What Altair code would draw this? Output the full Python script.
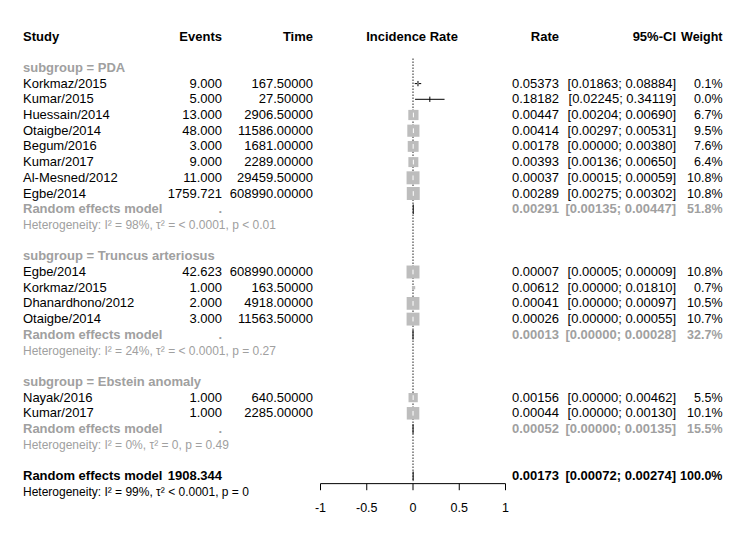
import altair as alt
import pandas as pd

# ---------------- data ----------------
group_names = ["PDA", "Truncus arteriosus", "Ebstein anomaly"]

pda_study = ["Korkmaz/2015", "Kumar/2015", "Huessain/2014", "Otaigbe/2014",
             "Begum/2016", "Kumar/2017", "Al-Mesned/2012", "Egbe/2014"]
pda_events = [9.000, 5.000, 13.000, 48.000, 3.000, 9.000, 11.000, 1759.721]
pda_time = [167.5, 27.5, 2906.5, 11586.0, 1681.0, 2289.0, 29459.5, 608990.0]
pda_rate = [0.05373, 0.18182, 0.00447, 0.00414, 0.00178, 0.00393, 0.00037, 0.00289]
pda_lo = [0.01863, 0.02245, 0.00204, 0.00297, 0.00000, 0.00136, 0.00015, 0.00275]
pda_hi = [0.08884, 0.34119, 0.00690, 0.00531, 0.00380, 0.00650, 0.00059, 0.00302]
pda_w = [0.1, 0.0, 6.7, 9.5, 7.6, 6.4, 10.8, 10.8]

tru_study = ["Egbe/2014", "Korkmaz/2015", "Dhanardhono/2012", "Otaigbe/2014"]
tru_events = [42.623, 1.000, 2.000, 3.000]
tru_time = [608990.0, 163.5, 4918.0, 11563.5]
tru_rate = [0.00007, 0.00612, 0.00041, 0.00026]
tru_lo = [0.00005, 0.00000, 0.00000, 0.00000]
tru_hi = [0.00009, 0.01810, 0.00097, 0.00055]
tru_w = [10.8, 0.7, 10.5, 10.7]

ebs_study = ["Nayak/2016", "Kumar/2017"]
ebs_events = [1.000, 1.000]
ebs_time = [640.5, 2285.0]
ebs_rate = [0.00156, 0.00044]
ebs_lo = [0.00000, 0.00000]
ebs_hi = [0.00462, 0.00130]
ebs_w = [5.5, 10.1]

re_rate = [0.00291, 0.00013, 0.00052]
re_lo = [0.00135, 0.00000, 0.00000]
re_hi = [0.00447, 0.00028, 0.00135]
re_w = [51.8, 32.7, 15.5]
het_text = ["Heterogeneity: I² = 98%, τ² = < 0.0001, p < 0.01",
            "Heterogeneity: I² = 24%, τ² = < 0.0001, p = 0.27",
            "Heterogeneity: I² = 0%, τ² = 0, p = 0.49"]

overall_events = 1908.344
overall_rate = 0.00173
overall_lo = 0.00072
overall_hi = 0.00274
overall_w = 100.0
overall_het = "Heterogeneity: I² = 99%, τ² < 0.0001, p = 0"

axis_ticks = [-1, -0.5, 0, 0.5, 1]
axis_labels = ["-1", "-0.5", "0", "0.5", "1"]

# ---------------- layout ----------------
W, H = 715, 524
X0, K = 405.0, 92.5      # pixel of rate 0 and pixels per unit
Y0, R = 28.5, 15.7       # pixel of row 0 and pixels per row
GRAY = "#a0a0a0"
FONT = "Liberation Sans"

groups = [
    (pda_study, pda_events, pda_time, pda_rate, pda_lo, pda_hi, pda_w),
    (tru_study, tru_events, tru_time, tru_rate, tru_lo, tru_hi, tru_w),
    (ebs_study, ebs_events, ebs_time, ebs_rate, ebs_lo, ebs_hi, ebs_w),
]

texts = []   # row, col, text, style
studies = []
diamonds = []

def add(row, col, text, style):
    texts.append({"row": row, "col": col, "text": text, "style": style})

for col, t in [("study", "Study"), ("events", "Events"), ("time", "Time"),
               ("mid", "Incidence Rate"), ("rate", "Rate"), ("ci", "95%-CI"),
               ("weight", "Weight")]:
    add(0, col, t, "bold")

row = 2
for gi, (st, ev, tm, rt, lo, hi, w) in enumerate(groups):
    add(row, "study", "subgroup = " + group_names[gi], "graybold")
    row += 1
    for i in range(len(st)):
        add(row, "study", st[i], "normal")
        add(row, "events", f"{ev[i]:.3f}", "normal")
        add(row, "time", f"{tm[i]:.5f}", "normal")
        add(row, "rate", f"{rt[i]:.5f}", "normal")
        add(row, "ci", f"[{lo[i]:.5f}; {hi[i]:.5f}]", "normal")
        add(row, "weight", f"{w[i]:.1f}%", "normal")
        studies.append({"row": row, "rate": rt[i], "lo": lo[i], "hi": hi[i], "w": w[i]})
        row += 1
    add(row, "study", "Random effects model", "graybold")
    add(row, "events", ".", "graybold")
    add(row, "rate", f"{re_rate[gi]:.5f}", "graybold")
    add(row, "ci", f"[{re_lo[gi]:.5f}; {re_hi[gi]:.5f}]", "graybold")
    add(row, "weight", f"{re_w[gi]:.1f}%", "graybold")
    diamonds.append({"row": row, "rate": re_rate[gi], "lo": re_lo[gi], "hi": re_hi[gi]})
    row += 1
    add(row, "study", het_text[gi], "hetgray")
    row += 2

add(row, "study", "Random effects model", "bold")
add(row, "events", f"{overall_events:.3f}", "bold")
add(row, "rate", f"{overall_rate:.5f}", "bold")
add(row, "ci", f"[{overall_lo:.5f}; {overall_hi:.5f}]", "bold")
add(row, "weight", f"{overall_w:.1f}%", "bold")
diamonds.append({"row": row, "rate": overall_rate, "lo": overall_lo, "hi": overall_hi})
overall_row = row
add(row + 1, "study", overall_het, "hetblack")

tdf = pd.DataFrame(texts)
sdf = pd.DataFrame(studies)
ddf = pd.DataFrame(diamonds)

xs = alt.Scale(domain=[(0 - X0) / K, (W - X0) / K], range=[0, W], nice=False, zero=False)
ys = alt.Scale(domain=[(0 - Y0) / R, (H - Y0) / R], range=[0, H], nice=False, zero=False)

col_x = {"study": (15, "left"), "events": (214, "right"), "time": (305, "right"),
         "mid": (404, "center"), "rate": (551, "right"), "ci": (668, "right"),
         "weight": (714.5, "right")}
styles = {"normal": ("black", "normal", 13), "bold": ("black", "bold", 13),
          "graybold": (GRAY, "bold", 13), "hetgray": (GRAY, "normal", 12),
          "hetblack": ("black", "normal", 12)}

layers = []

# reference line at 0 (dotted)
ref = pd.DataFrame({"x": [0], "y": [1.4], "y2": [overall_row + 0.35]})
layers.append(alt.Chart(ref).mark_rule(color="#222222", strokeWidth=1, strokeDash=[1.5, 1.5]).encode(
    x=alt.X("x:Q", scale=xs, axis=None), y=alt.Y("y:Q", scale=ys, axis=None), y2="y2:Q"))

base_s = alt.Chart(sdf)
# CI lines
layers.append(base_s.mark_rule(color="black", strokeWidth=1).encode(
    x=alt.X("lo:Q", scale=xs, axis=None), x2="hi:Q", y=alt.Y("row:Q", scale=ys, axis=None)))
# tiny-weight point estimates
layers.append(base_s.transform_filter("datum.w < 0.5").transform_calculate(
    ya="datum.row - 0.17", yb="datum.row + 0.17").mark_rule(color="black", strokeWidth=1).encode(
    x=alt.X("rate:Q", scale=xs, axis=None), y=alt.Y("ya:Q", scale=ys, axis=None), y2="yb:Q"))
# squares
layers.append(base_s.mark_square(filled=True, color="#bdbdbd", opacity=1).encode(
    x=alt.X("rate:Q", scale=xs, axis=None), y=alt.Y("row:Q", scale=ys, axis=None),
    size=alt.Size("w:Q", scale=alt.Scale(domain=[0, 10.8], range=[0, 168]), legend=None)))
# white inner marks
layers.append(base_s.transform_filter("datum.w >= 2").transform_calculate(
    ya="datum.row - 0.15", yb="datum.row + 0.15").mark_rule(color="white", strokeWidth=1).encode(
    x=alt.X("rate:Q", scale=xs, axis=None), y=alt.Y("ya:Q", scale=ys, axis=None), y2="yb:Q"))
# diamonds (sub-pixel wide, drawn as short vertical marks)
layers.append(alt.Chart(ddf).transform_calculate(
    ya="datum.row - 0.3", yb="datum.row + 0.3").mark_rule(color="#222222", strokeWidth=1.2).encode(
    x=alt.X("rate:Q", scale=xs, axis=None), y=alt.Y("ya:Q", scale=ys, axis=None), y2="yb:Q"))

# x axis drawn from tick values
ax_y, tick_y, lab_y = overall_row + 0.48, overall_row + 0.9, overall_row + 2.05
adf = pd.DataFrame({"t": axis_ticks, "lab": axis_labels})
layers.append(alt.Chart(pd.DataFrame({"a": [min(axis_ticks)], "b": [max(axis_ticks)], "y": [ax_y]}))
              .mark_rule(color="black", strokeWidth=1).encode(
    x=alt.X("a:Q", scale=xs, axis=None), x2="b:Q", y=alt.Y("y:Q", scale=ys, axis=None)))
layers.append(alt.Chart(adf).transform_calculate(ya=str(ax_y), yb=str(tick_y))
              .mark_rule(color="black", strokeWidth=1).encode(
    x=alt.X("t:Q", scale=xs, axis=None), y=alt.Y("ya:Q", scale=ys, axis=None), y2="yb:Q"))
layers.append(alt.Chart(adf).transform_calculate(yl=str(lab_y))
              .mark_text(font=FONT, fontSize=12.5, color="black", baseline="middle", align="center").encode(
    x=alt.X("t:Q", scale=xs, axis=None), y=alt.Y("yl:Q", scale=ys, axis=None), text="lab:N"))

# text columns
for col, (px, al) in col_x.items():
    for st, (c, fw, fs) in styles.items():
        sub = tdf[(tdf.col == col) & (tdf["style"] == st)]
        if len(sub) == 0:
            continue
        if col == "weight" and st != "bold":
            fs = 12.5
        if col == "weight" and st == "bold":
            fs = 12.5
        layers.append(alt.Chart(sub).mark_text(
            font=FONT, fontSize=fs, fontWeight=fw, color=c, align=al, baseline="middle").encode(
            x=alt.value(px), y=alt.Y("row:Q", scale=ys, axis=None), text="text:N"))

chart = alt.layer(*layers).properties(
    width=W, height=H, padding=0, background="white",
    autosize=alt.AutoSizeParams(type="none")
).configure_view(stroke=None)

chart.save("out.html", embed_options={"renderer": "svg", "actions": False})
